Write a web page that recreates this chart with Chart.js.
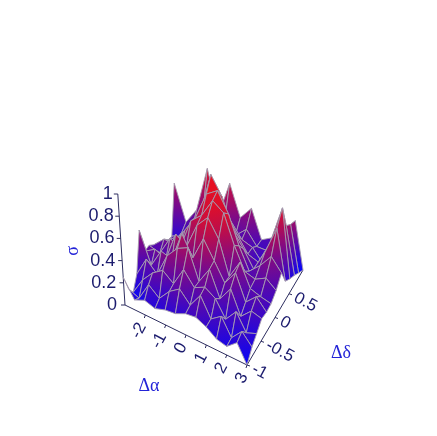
<!DOCTYPE html>
<html>
<head>
<meta charset="utf-8">
<style>
    html, body { margin: 0; padding: 0; background: #fff; }
    canvas { display: block; filter: blur(0.4px); }
</style>
<script src="https://cdn.jsdelivr.net/npm/chart.js@4/dist/chart.umd.min.js"></script>
</head>
<body>
<canvas id="surface-chart" width="437" height="436"></canvas>
<script>
const alphaValues = [-3, -2.5, -2, -1.5, -1, -0.5, 0, 0.5, 1, 1.5, 2, 2.5, 3];
const deltaValues = [-1, -0.83, -0.67, -0.5, -0.33, -0.17, 0, 0.17, 0.33, 0.5, 0.67, 0.83, 1];
// one row per delta, one column per alpha
const sigmaValues = [
    [0.25, 0.09, 0.13, 0.10, 0.13, 0.14, 0.18, 0.19, 0.15, 0.09, 0.07, 0.14, 0.00],
    [0.10, 0.06, 0.22, 0.14, 0.24, 0.30, 0.20, 0.32, 0.16, 0.22, 0.08, 0.17, 0.08],
    [0.03, 0.18, 0.28, 0.34, 0.26, 0.42, 0.30, 0.34, 0.28, 0.14, 0.24, 0.10, 0.13],
    [0.15, 0.32, 0.22, 0.42, 0.52, 0.56, 0.30, 0.44, 0.22, 0.34, 0.14, 0.22, 0.19],
    [0.50, 0.22, 0.38, 0.34, 0.60, 0.42, 0.62, 0.46, 0.30, 0.42, 0.20, 0.28, 0.18],
    [0.27, 0.32, 0.26, 0.52, 0.44, 0.66, 0.76, 0.60, 0.30, 0.46, 0.26, 0.22, 0.19],
    [0.28, 0.24, 0.40, 0.36, 0.62, 0.70, 0.86, 0.78, 0.52, 0.32, 0.28, 0.32, 0.24],
    [0.24, 0.32, 0.30, 0.46, 0.60, 0.84, 0.90, 0.72, 0.46, 0.26, 0.34, 0.45, 0.33],
    [0.19, 0.27, 0.33, 0.38, 0.58, 0.97, 0.80, 0.52, 0.38, 0.22, 0.40, 0.65, 0.19],
    [0.15, 0.26, 0.27, 0.36, 0.50, 0.70, 0.58, 0.42, 0.27, 0.22, 0.42, 0.78, 0.14],
    [0.11, 0.18, 0.27, 0.28, 0.36, 0.36, 0.46, 0.32, 0.27, 0.14, 0.22, 0.55, 0.10],
    [0.07, 0.20, 0.26, 0.42, 0.28, 0.40, 0.28, 0.36, 0.22, 0.20, 0.10, 0.50, 0.05],
    [0.58, 0.25, 0.38, 0.78, 0.37, 0.69, 0.39, 0.50, 0.22, 0.26, 0.03, 0.47, 0.00]
];
const sigmaTicks = [0, 0.2, 0.4, 0.6, 0.8, 1];
const alphaTicks = [-2, -1, 0, 1, 2, 3];
const deltaTicks = [-1, -0.5, 0, 0.5];

// box corners on the floor and how tall sigma=1 stands at each, [u, v] order: 00 10 11 01
const corners = [[125, 305, 111], [247, 365, 125], [303, 270, 100], [176, 248, 112]];

const axisColor = 'rgb(45, 45, 95)';
const textColor = 'rgb(28, 28, 110)';
const nameColor = 'rgb(35, 35, 215)';

function project(alpha, delta, sigma) {
    let u = (alpha + 3) / 6;
    let v = (delta + 1) / 2;
    let mix = (k) => (1 - v) * ((1 - u) * corners[0][k] + u * corners[1][k]) + v * ((1 - u) * corners[3][k] + u * corners[2][k]);
    let x = mix(0);
    let y = mix(1);
    return { x: x + 0.08 * (x - 215) * sigma, y: y - mix(2) * sigma };
}

let surfacePoints = [];
deltaValues.forEach((d, j) => {
    alphaValues.forEach((a, i) => {
        surfacePoints.push(project(a, d, sigmaValues[j][i]));
    });
});

function sigmaColor(z) {
    let t = Math.pow(Math.min(1, z / 0.8), 0.95);
    return `rgb(${Math.round(5 + 225 * t)}, ${Math.round(5 + 10 * t)}, ${Math.round(250 - 215 * t)})`;
}

const surfacePlugin = {
    id: 'surface',
    afterDatasetsDraw(chart) {
        let ctx = chart.ctx;
        let pts = chart.getDatasetMeta(0).data;
        let cols = alphaValues.length;
        ctx.save();
        ctx.lineWidth = 0.9;
        ctx.lineJoin = 'round';
        ctx.strokeStyle = 'rgb(165, 155, 175)';
        // back to front
        for (let j = deltaValues.length - 2; j >= 0; j--) {
            for (let i = 0; i < cols - 1; i++) {
                let ids = [j * cols + i, j * cols + i + 1, (j + 1) * cols + i + 1, (j + 1) * cols + i];
                let zs = [sigmaValues[j][i], sigmaValues[j][i + 1], sigmaValues[j + 1][i + 1], sigmaValues[j + 1][i]];
                let low = zs.indexOf(Math.min(...zs));
                let high = zs.indexOf(Math.max(...zs));
                let fill = ctx.createLinearGradient(pts[ids[low]].x, pts[ids[low]].y, pts[ids[high]].x, pts[ids[high]].y);
                fill.addColorStop(0, sigmaColor(zs[low]));
                fill.addColorStop(1, sigmaColor(zs[high]));
                ctx.beginPath();
                ids.forEach((id, n) => {
                    if (n == 0) ctx.moveTo(pts[id].x, pts[id].y);
                    else ctx.lineTo(pts[id].x, pts[id].y);
                });
                ctx.closePath();
                ctx.fillStyle = fill;
                ctx.fill();
                ctx.stroke();
            }
        }
        ctx.restore();

        let sx = chart.scales.x;
        let sy = chart.scales.y;
        let label = (text, x, y, font, color, angle, align) => {
            ctx.save();
            ctx.translate(x, y);
            ctx.rotate(angle * Math.PI / 180);
            ctx.font = font;
            ctx.fillStyle = color;
            ctx.textAlign = align;
            ctx.textBaseline = 'middle';
            ctx.fillText(text, 0, 0);
            ctx.restore();
        };
        let tick = (p, dx, dy) => {
            ctx.beginPath();
            ctx.moveTo(sx.getPixelForValue(p.x), sy.getPixelForValue(p.y));
            ctx.lineTo(sx.getPixelForValue(p.x) + dx, sy.getPixelForValue(p.y) + dy);
            ctx.stroke();
        };
        ctx.strokeStyle = axisColor;
        ctx.lineWidth = 1;
        sigmaTicks.forEach((s) => {
            let p = project(-3, -1, s);
            tick(p, -4, 0);
            label(String(s), sx.getPixelForValue(p.x) - 5 - 3 * (1 - s), sy.getPixelForValue(p.y), '18px "Liberation Sans"', textColor, 0, 'right');
        });
        alphaTicks.forEach((a) => {
            let p = project(a, -1, 0);
            tick(p, -1, 3);
            label(String(a), sx.getPixelForValue(p.x) - 3, sy.getPixelForValue(p.y) + 9, '17px "Liberation Sans"', textColor, -62, 'right');
        });
        deltaTicks.forEach((d) => {
            let p = project(3, d, 0);
            tick(p, 3, 1);
            label(String(d), sx.getPixelForValue(p.x) + 6, sy.getPixelForValue(p.y) + 3, '17px "Liberation Sans"', textColor, 28, 'left');
        });
        label('σ', 73, 251, '18px "Liberation Serif"', nameColor, -90, 'center');
        label('Δα', 149, 386, '18px "Liberation Serif"', nameColor, 0, 'center');
        label('Δδ', 341, 353, '18px "Liberation Serif"', nameColor, 0, 'center');
    }
};

function axisDataset(points) {
    return { data: points, showLine: true, pointRadius: 0, borderColor: axisColor, borderWidth: 1 };
}

new Chart(document.getElementById('surface-chart').getContext('2d'), {
    type: 'scatter',
    data: {
        datasets: [
            { data: surfacePoints, showLine: false, pointRadius: 0 },
            axisDataset([project(-3, -1, 0), project(-3, -1, 1)]),
            axisDataset([project(-3, -1, 0), project(3, -1, 0)]),
            axisDataset([project(3, -1, 0), project(3, 1, 0)])
        ]
    },
    options: {
        responsive: false,
        animation: false,
        layout: { padding: 0 },
        scales: {
            x: { type: 'linear', min: 0, max: 437, display: false },
            y: { type: 'linear', min: 0, max: 436, reverse: true, display: false }
        },
        plugins: {
            legend: { display: false },
            tooltip: { enabled: false }
        }
    },
    plugins: [surfacePlugin]
});
</script>
</body>
</html>
